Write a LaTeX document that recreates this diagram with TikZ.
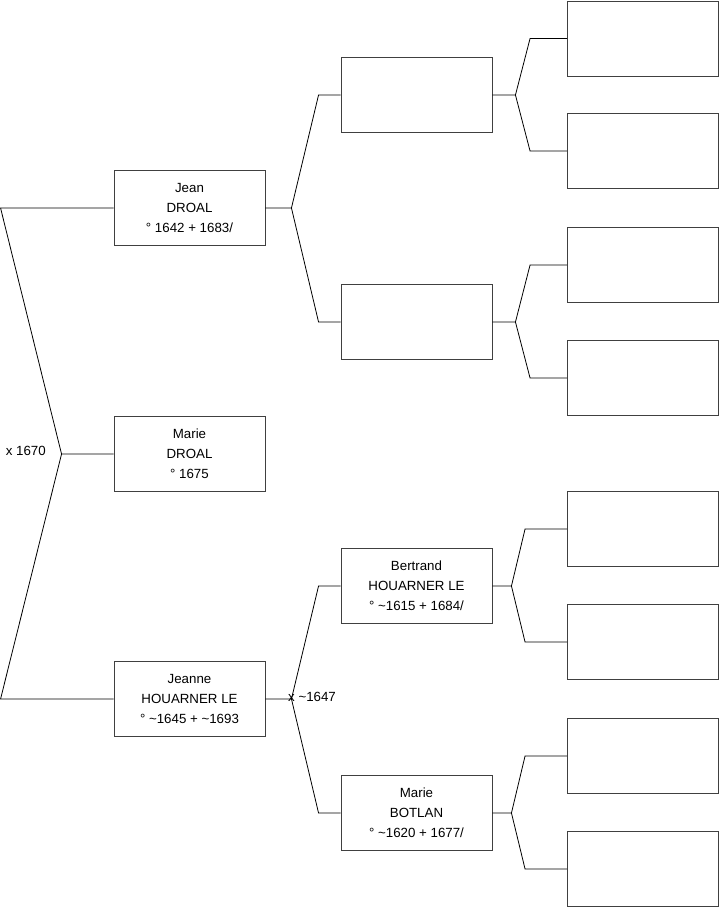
\documentclass[tikz,border=0pt]{standalone}
\usepackage{fontspec}
\setmainfont{Liberation Sans}
\usepackage{tikz}
\usetikzlibrary{positioning}

\tikzset{
  person/.style={draw=black!75,line width=.9pt,minimum width=151pt,minimum height=75pt,inner sep=0pt,align=center,font=\fontsize{13.3}{20}\selectfont},
  link/.style={line width=.8pt},
  wed/.style={font=\fontsize{13.3}{15}\selectfont,inner sep=0pt}
}

\begin{document}
\begin{tikzpicture}[x=1pt,y=-1pt]
\useasboundingbox (0,0) rectangle (719,908);
% generation 1
\node[person] (jean) at (189.5,208) {Jean\\DROAL\\° 1642 + 1683/};
\node[person] (marie) at (189.5,454) {Marie\\DROAL\\° 1675};
\node[person] (jeanne) at (189.5,699) {Jeanne\\HOUARNER LE\\° \textasciitilde1645 + \textasciitilde1693};
% generation 2
\node[person] (jp) at (416.5,95) {};
\node[person] (jm) at (416.5,322) {};
\node[person] (bert) at (416.5,586) {Bertrand\\HOUARNER LE\\° \textasciitilde1615 + 1684/};
\node[person] (botlan) at (416.5,813) {Marie\\BOTLAN\\° \textasciitilde1620 + 1677/};
% generation 3
\node[person] (g1) at (643,38.5) {};
\node[person] (g2) at (643,151) {};
\node[person] (g3) at (643,265) {};
\node[person] (g4) at (643,378) {};
\node[person] (g5) at (643,529) {};
\node[person] (g6) at (643,642) {};
\node[person] (g7) at (643,756) {};
\node[person] (g8) at (643,869) {};

% marriages
\node[wed,anchor=east] (x1) at (46,451) {x 1670};
\node[wed,anchor=west] (x2) at (288,697) {x \textasciitilde1647};

% forks
\coordinate (f0) at ([xshift=-52pt]marie.west);
\draw[link] (marie.west) -- (f0) -- ([xshift=-113pt]jean.west) -- (jean.west);
\draw[link] (f0) -- ([xshift=-113pt]jeanne.west) -- (jeanne.west);

\coordinate (fj) at ([xshift=26pt]jean.east);
\draw[link] (jean.east) -- (fj) -- ([xshift=-22pt]jp.west) -- (jp.west);
\draw[link] (fj) -- ([xshift=-22pt]jm.west) -- (jm.west);

\coordinate (fh) at ([xshift=26pt]jeanne.east);
\draw[link] (jeanne.east) -- (fh) -- ([xshift=-22pt]bert.west) -- (bert.west);
\draw[link] (fh) -- ([xshift=-22pt]botlan.west) -- (botlan.west);

\coordinate (fa) at ([xshift=23pt]jp.east);
\draw[link] (jp.east) -- (fa) -- ([xshift=-37pt]g1.west) -- (g1.west);
\draw[link] (fa) -- ([xshift=-37pt]g2.west) -- (g2.west);

\coordinate (fb) at ([xshift=23pt]jm.east);
\draw[link] (jm.east) -- (fb) -- ([xshift=-37pt]g3.west) -- (g3.west);
\draw[link] (fb) -- ([xshift=-37pt]g4.west) -- (g4.west);

\coordinate (fc) at ([xshift=19pt]bert.east);
\draw[link] (bert.east) -- (fc) -- ([xshift=-42pt]g5.west) -- (g5.west);
\draw[link] (fc) -- ([xshift=-42pt]g6.west) -- (g6.west);

\coordinate (fd) at ([xshift=19pt]botlan.east);
\draw[link] (botlan.east) -- (fd) -- ([xshift=-42pt]g7.west) -- (g7.west);
\draw[link] (fd) -- ([xshift=-42pt]g8.west) -- (g8.west);
\end{tikzpicture}
\end{document}
